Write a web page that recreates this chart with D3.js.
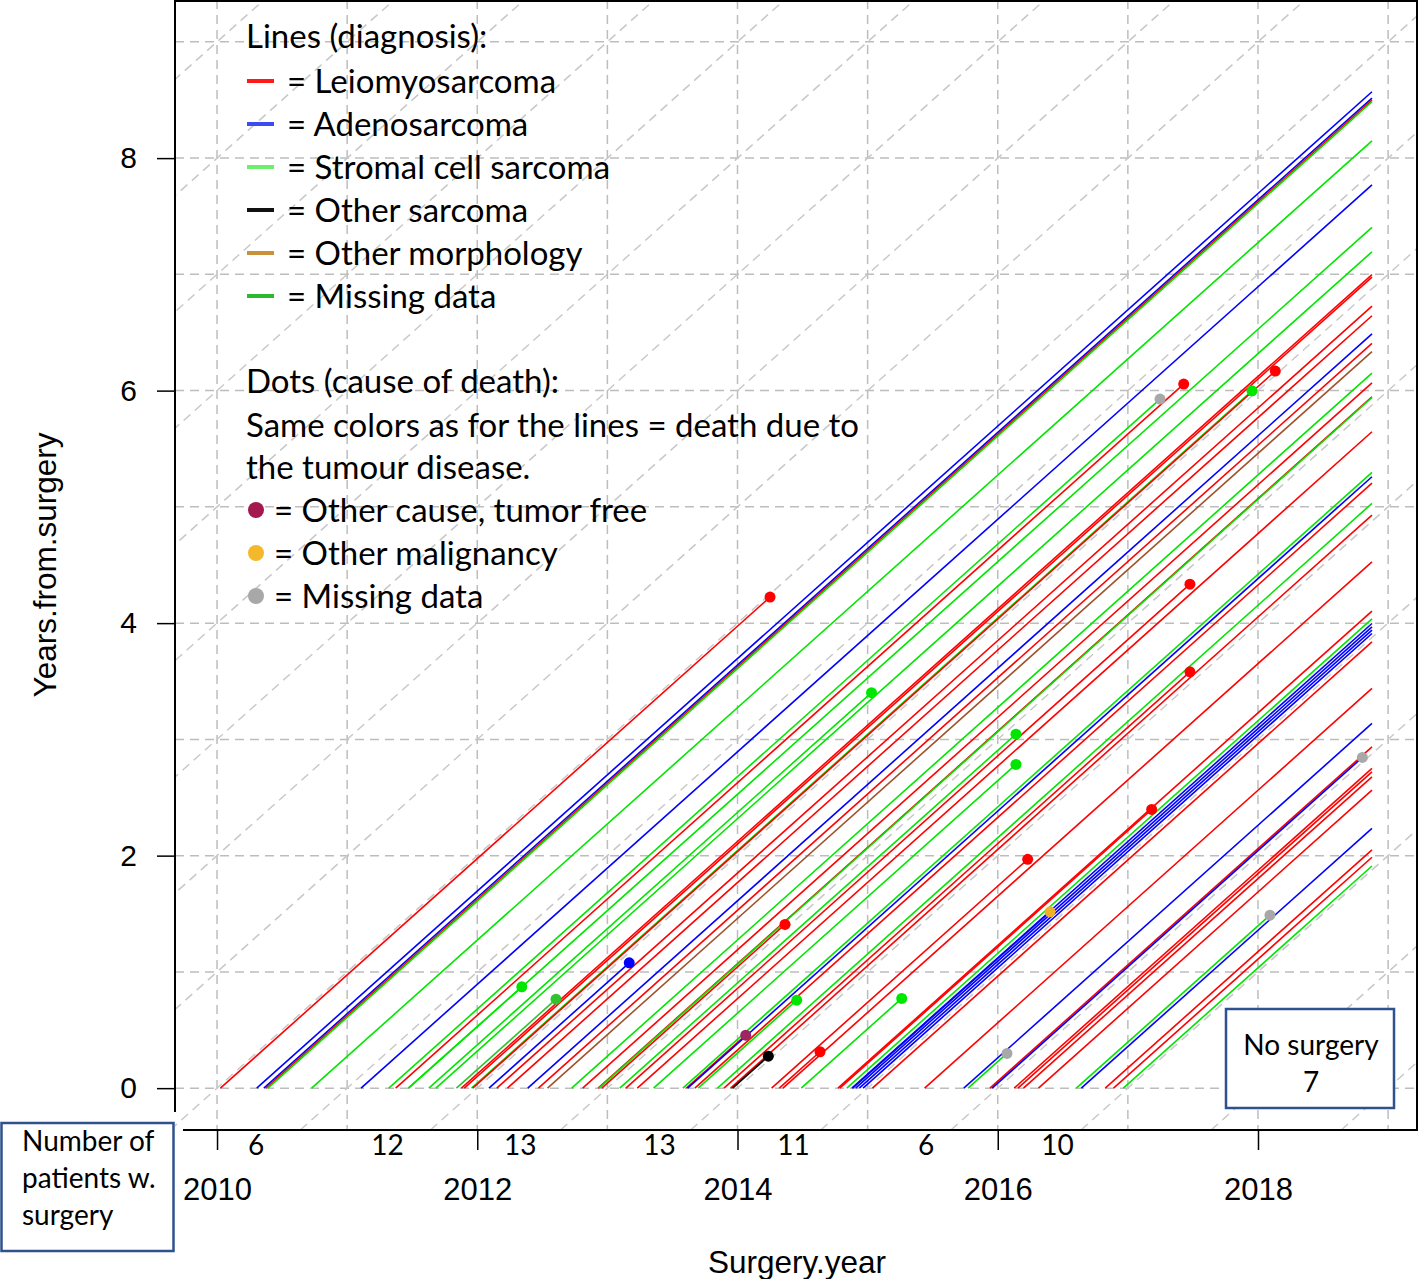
<!DOCTYPE html>
<html><head><meta charset="utf-8">
<script src="https://cdn.jsdelivr.net/npm/d3@7"></script>
<style>body{margin:0;background:#fff} svg{display:block}</style>
</head><body>
<svg id="c" width="1419" height="1279"></svg>
<script>
// ---------------- DATA ----------------
const followUpEnd = 2018.876;
// surgery date (decimal year) of each patient
const surgeryDate = [
  2010.026, 2010.305, 2010.360, 2010.377, 2010.391, 2010.727,
  2011.107, 2011.320, 2011.373, 2011.470, 2011.472, 2011.628, 2011.682, 2011.840, 2011.878, 2011.900, 2011.956, 2011.965,
  2012.090, 2012.150, 2012.232, 2012.388, 2012.470, 2012.540, 2012.725, 2012.810, 2012.929, 2012.935, 2012.957,
  2013.095, 2013.142, 2013.230, 2013.355, 2013.580, 2013.607, 2013.617, 2013.672, 2013.698, 2013.846, 2013.896, 2013.947, 2013.962,
  2014.262, 2014.321, 2014.349, 2014.490, 2014.772, 2014.786, 2014.840, 2014.879, 2014.885, 2014.908, 2014.936, 2014.965,
  2015.037, 2015.438, 2015.739, 2015.772, 2015.940, 2015.957,
  2016.126, 2016.155, 2016.198, 2016.313, 2016.604, 2016.642, 2016.826, 2016.890, 2016.965
];
// exit date (death) ; null = alive at end of follow-up
const exitDate = [
  2014.250, null, null, null, null, null,
  null, 2017.247, 2017.429, 2012.342, null, 2015.030, null, 2012.605, null, null, 2017.954, 2018.133,
  2013.168, null, null, null, null, null, null, null, null, null, 2014.365,
  2016.140, 2017.477, null, 2016.140, null, 2014.063, null, null, 2014.455, null, 2017.477, null, 2014.237,
  2016.230, 2014.634, null, 2015.262, null, 2017.183, null, null, 2016.402, null, null, null,
  null, null, null, 2016.071, null, 2018.802,
  null, null, null, null, 2018.092, null, null, null, null
];
// L=Leiomyosarcoma A=Adenosarcoma S=Stromal cell sarcoma O=Other sarcoma M=Other morphology X=Missing data
const diagnosis = [
  "L","A","A","L","S","S",
  "A","S","L","S","S","S","S","X","L","L","S","L",
  "A","L","L","A","L","M","S","L","L","S","L",
  "S","L","L","S","S","L","A","L","S","S","L","L","O",
  "L","L","L","S","L","L","S","A","A","A","A","A",
  "L","L","A","S","L","A",
  "L","L","L","L","S","A","L","L","S"
];
// T=tumour disease, C=other cause tumour free, G=other malignancy, N=missing data, ""=no death
const deathCause = [
  "T","","","","","",
  "","N","T","T","","T","","T","","","T","T",
  "T","","","","","","","","","","T",
  "T","T","","T","","C","","","T","","T","","T",
  "T","T","","T","","T","","","G","","","",
  "","","","N","","N",
  "","","","","N","","","",""
];
const surgeryYears = [2010, 2011, 2012, 2013, 2014, 2015, 2016];
const patientsPerYear = [6, 12, 13, 13, 11, 6, 10];
const noSurgeryCount = 7;
const xTickValues = [2010, 2012, 2014, 2016, 2018];
const yTickValues = [0, 2, 4, 6, 8];
const gridYears = d3.range(2010, 2020);
const gridDurations = d3.range(0, 10);
const diagonalOrigins = d3.range(2000, 2020);
const diagnosisLabels = ["Leiomyosarcoma", "Adenosarcoma", "Stromal cell sarcoma", "Other sarcoma", "Other morphology", "Missing data"];
const causeLabels = ["Other cause, tumor free", "Other malignancy", "Missing data"];

// ---------------- STYLE / LAYOUT ----------------
const lineColor = {L:"#ff0000", A:"#0000ff", S:"#00e600", O:"#000000", M:"#a0522d", X:"#2fc42f"};
const legendLineColors = ["#ff1a1a", "#3a4cf2", "#6cf06c", "#111111", "#c8913a", "#2db92d"];
const causeColor = {C:"#9e2462", G:"#f2b02a", N:"#a8a8a8"};
const legendDotColors = ["#a3194f", "#f5b82a", "#a8a8a8"];
const countLabelOffset = [0.30, 0.31, 0.33, 0.40, 0.43, 0.45, 0.46];
const rFont = "'Liberation Sans', Arial, sans-serif";
const cFont = "Lato, 'Open Sans', sans-serif";

const svg = d3.select("#c");
const x = d3.scaleLinear().domain([2009.677, 2019.222]).range([175, 1417]);
const y = d3.scaleLinear().domain([-0.36, 9.36]).range([1130, 0]);

svg.append("defs").append("clipPath").attr("id","plotclip")
  .append("rect").attr("x",175).attr("y",0).attr("width",1242).attr("height",1130);

const grid = svg.append("g").attr("clip-path","url(#plotclip)")
  .attr("stroke","#bdbdbd").attr("stroke-width",1.5).attr("stroke-dasharray","9,6").attr("fill","none");
grid.selectAll("line.v").data(gridYears).join("line").attr("class","v")
  .attr("x1",d=>x(d)).attr("x2",d=>x(d)).attr("y1",y(9.36)).attr("y2",y(-0.36));
grid.selectAll("line.h").data(gridDurations).join("line").attr("class","h")
  .attr("x1",x(2009.677)).attr("x2",x(2019.222)).attr("y1",d=>y(d)).attr("y2",d=>y(d));
grid.selectAll("line.d").data(diagonalOrigins).join("line").attr("class","d")
  .attr("stroke","#c8c8c8")
  .attr("x1",d=>x(d-0.36)).attr("y1",y(-0.36)).attr("x2",d=>x(d+9.36)).attr("y2",y(9.36));

// patients
const patients = surgeryDate.map((s,i)=>({s, e: exitDate[i]===null ? followUpEnd : exitDate[i], dx: diagnosis[i], dc: deathCause[i]}));
const lineGen = d3.line().x(p=>x(p[0])).y(p=>y(p[1]));
const pg = svg.append("g").attr("clip-path","url(#plotclip)");
pg.selectAll("path").data(patients).join("path")
  .attr("d", p=>lineGen([[p.s,0],[p.e,p.e-p.s]]))
  .attr("fill","none").attr("stroke",p=>lineColor[p.dx]).attr("stroke-width",1.6);
pg.selectAll("circle").data(patients.filter(p=>p.dc!=="")).join("circle")
  .attr("cx",p=>x(p.e)).attr("cy",p=>y(p.e-p.s)).attr("r",5.5)
  .attr("fill",p=>p.dc==="T" ? lineColor[p.dx] : causeColor[p.dc]);

// axes
const ya = svg.append("g").attr("transform","translate(175,0)")
  .call(d3.axisLeft(y).tickValues(yTickValues).tickSize(18).tickPadding(20));
ya.select(".domain").remove();
ya.selectAll("line").attr("stroke","#000").attr("stroke-width",1.5);
ya.selectAll("text").attr("font-family",rFont).attr("font-size",30).attr("fill","#000");

const xa = svg.append("g").attr("transform","translate(0,1130)")
  .call(d3.axisBottom(x).tickValues(xTickValues).tickFormat(d3.format("d")).tickSize(20).tickPadding(28));
xa.select(".domain").remove();
xa.selectAll("line").attr("stroke","#000").attr("stroke-width",1.5);
xa.selectAll("text").attr("font-family",rFont).attr("font-size",31).attr("fill","#000");

// plot frame
svg.append("path").attr("d","M175,1112V1H1417V1130H183").attr("fill","none").attr("stroke","#000").attr("stroke-width",2);

// axis titles
svg.append("text").attr("transform","translate(56,565) rotate(-90)").attr("text-anchor","middle")
  .attr("font-family",rFont).attr("font-size",31.5).text("Years.from.surgery");
svg.append("text").attr("x",797).attr("y",1273).attr("text-anchor","middle")
  .attr("font-family",rFont).attr("font-size",31.5).text("Surgery.year");

// counts per surgery year
svg.append("g").selectAll("text").data(surgeryYears).join("text")
  .attr("x",(d,i)=>x(d+countLabelOffset[i])).attr("y",1155).attr("text-anchor","middle")
  .attr("font-family",cFont).attr("font-size",28).text((d,i)=>patientsPerYear[i]);

// legend
const leg = svg.append("g").attr("font-family",cFont).attr("font-size",33).attr("fill","#000");
leg.append("text").attr("x",246).attr("y",48).text("Lines (diagnosis):");
diagnosisLabels.forEach((lab,i)=>{
  const cy = 81 + i*43;
  leg.append("line").attr("x1",247).attr("x2",274).attr("y1",cy).attr("y2",cy)
    .attr("stroke",legendLineColors[i]).attr("stroke-width",4);
  leg.append("text").attr("x",287).attr("y",cy+12).text("= " + lab);
});
leg.append("text").attr("x",246).attr("y",393).text("Dots (cause of death):");
leg.append("text").attr("x",246).attr("y",437).text("Same colors as for the lines = death due to");
leg.append("text").attr("x",246).attr("y",479).text("the tumour disease.");
causeLabels.forEach((lab,i)=>{
  const cy = 510 + i*43;
  leg.append("circle").attr("cx",256).attr("cy",cy).attr("r",8).attr("fill",legendDotColors[i]);
  leg.append("text").attr("x",274).attr("y",cy+12).text("= " + lab);
});

// annotation boxes
const nb = svg.append("g");
nb.append("rect").attr("x",1226).attr("y",1009).attr("width",168).attr("height",99)
  .attr("fill","#fff").attr("stroke","#2f528f").attr("stroke-width",2.5);
nb.append("text").attr("x",1311).attr("y",1055).attr("text-anchor","middle")
  .attr("font-family",cFont).attr("font-size",28).text("No surgery");
nb.append("text").attr("x",1311).attr("y",1092).attr("text-anchor","middle")
  .attr("font-family",cFont).attr("font-size",28).text(noSurgeryCount);

const pb = svg.append("g");
pb.append("rect").attr("x",1.5).attr("y",1123).attr("width",172).attr("height",128)
  .attr("fill","#fff").attr("stroke","#2f528f").attr("stroke-width",2.5);
["Number of","patients w.","surgery"].forEach((t,i)=>{
  pb.append("text").attr("x",22).attr("y",1151+i*37).attr("font-family",cFont).attr("font-size",28).text(t);
});
</script>
</body></html>
